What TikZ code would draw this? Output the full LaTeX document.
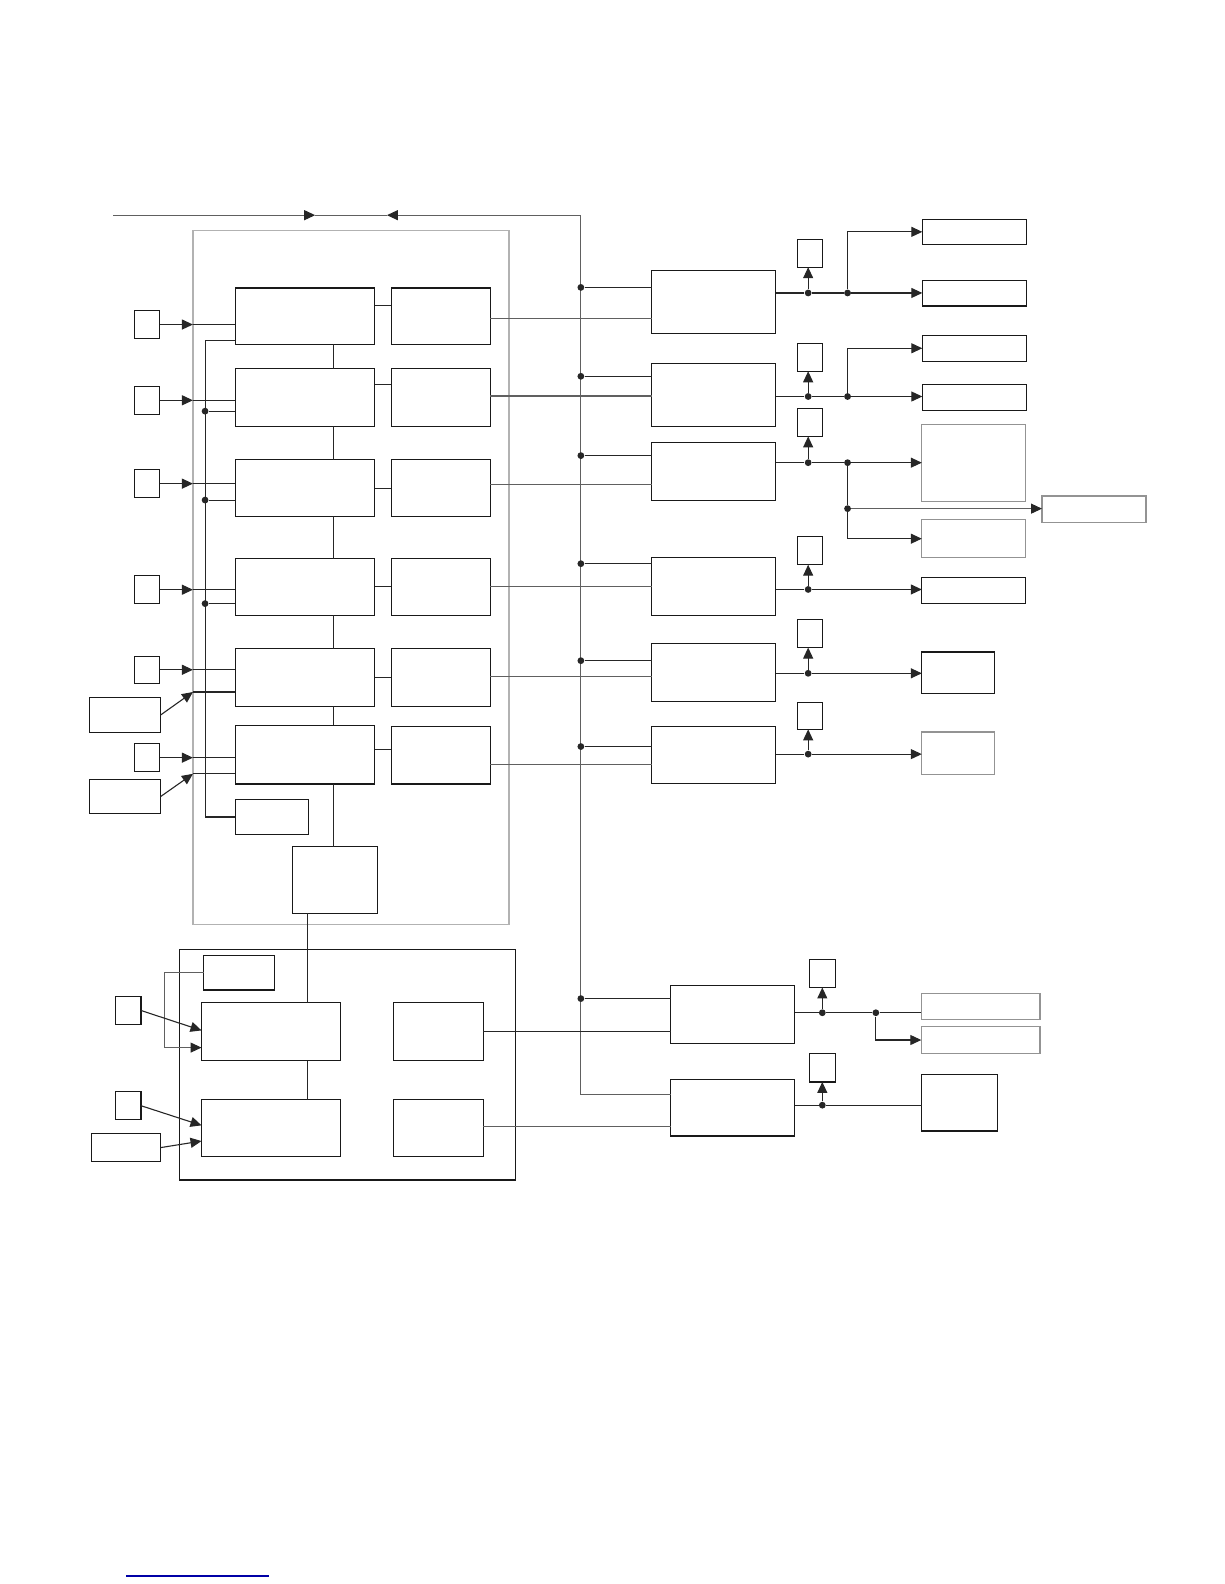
\documentclass[tikz,border=0pt]{standalone}
\usepackage{tikz}
\usetikzlibrary{positioning,arrows.meta,fit,calc}

\tikzset{
  blk/.style={draw=black!90, line width=0.6pt, inner sep=0pt, outer sep=0pt},
  gblk/.style={blk, draw=gray!85},
  wire/.style={draw=black!85, line width=0.55pt},
  gwire/.style={draw=gray!75!black, line width=0.55pt},
  arr/.style={-{Triangle[length=5.5pt,width=5pt,color=black!85,fill=black!85]}},
  jdot/.style={circle, fill=black!85, inner sep=0pt, minimum size=3.4pt},
}

\begin{document}
\begin{tikzpicture}[x=0.505pt, y=-0.505pt]
\useasboundingbox (0,0) rectangle (1212,1568);

% frames
\node[blk, draw=gray!60, line width=0.8pt, fit={(191,228) (504,915)}] (fA) {};
\node[blk, fit={(178,940) (510,1168)}] (fB) {};

% left column
\node[blk, fit={(233,285) (371,341)}] (a1) {};
\node[blk, fit={(233,365) (371,422)}] (a2) {};
\node[blk, fit={(233,455) (371,511)}] (a3) {};
\node[blk, fit={(233,553) (371,609)}] (a4) {};
\node[blk, fit={(233,642) (371,699)}] (a5) {};
\node[blk, fit={(233,718) (371,776)}] (a6) {};
\node[blk, fit={(387.5,285) (485.5,341)}] (b1) {};
\node[blk, fit={(387.5,365) (485.5,422)}] (b2) {};
\node[blk, fit={(387.5,455) (485.5,511)}] (b3) {};
\node[blk, fit={(387.5,553) (485.5,609)}] (b4) {};
\node[blk, fit={(387.5,642) (485.5,699)}] (b5) {};
\node[blk, fit={(387.5,719) (485.5,776)}] (b6) {};
\node[blk, fit={(233,791.5) (305,826)}] (aux) {};
\node[blk, fit={(289.5,838) (373.5,904)}] (dd) {};

% lower frame
\node[blk, fit={(201.5,946) (271.5,980)}] (g) {};
\node[blk, fit={(199.5,992.5) (337,1050)}] (e1) {};
\node[blk, fit={(199.5,1088.5) (337,1145)}] (e2) {};
\node[blk, fit={(389.5,992.5) (478.5,1050)}] (f1) {};
\node[blk, fit={(389.5,1088.5) (478.5,1145)}] (f2) {};

% inputs
\node[blk, fit={(133,307.5) (158,335)}] (in1) {};
\node[blk, fit={(133,382.5) (158,410)}] (in2) {};
\node[blk, fit={(133,465) (158,492.5)}] (in3) {};
\node[blk, fit={(133,570) (158,597.5)}] (in4) {};
\node[blk, fit={(133,649.5) (158,676.5)}] (in5) {};
\node[blk, fit={(133,736) (158,764)}] (in6) {};
\node[blk, fit={(88.5,690.5) (159,725)}] (big5) {};
\node[blk, fit={(88.5,771.5) (159,805.5)}] (big6) {};
\node[blk, fit={(114,986.5) (139.5,1014)}] (inb1) {};
\node[blk, fit={(114,1080.5) (139.5,1108.5)}] (inb2) {};
\node[blk, fit={(90.5,1122) (159,1150)}] (lb3) {};

% drivers
\node[blk, fit={(645,268) (768,330)}] (c1) {};
\node[blk, fit={(645,360) (768,422)}] (c2) {};
\node[blk, fit={(645,438) (768,495.5)}] (c3) {};
\node[blk, fit={(645,552) (768,609)}] (c4) {};
\node[blk, fit={(645,637) (768,694.5)}] (c5) {};
\node[blk, fit={(645,719) (768,775.5)}] (c6) {};
\node[blk, fit={(664,975.5) (786.5,1033)}] (c7) {};
\node[blk, fit={(664,1068.5) (786.5,1124.5)}] (c8) {};

% sensors
\node[blk, fit={(789.5,237) (814.5,264.5)}] (sn1) {};
\node[blk, fit={(789.5,340) (814.5,367.5)}] (sn2) {};
\node[blk, fit={(789.5,404.5) (814.5,432)}] (sn3) {};
\node[blk, fit={(789.5,531) (814.5,559)}] (sn4) {};
\node[blk, fit={(789.5,613.5) (814.5,641)}] (sn5) {};
\node[blk, fit={(789.5,695) (814.5,722)}] (sn6) {};
\node[blk, fit={(801.5,950) (827,977.5)}] (sn7) {};
\node[blk, fit={(801.5,1043) (827,1071)}] (sn8) {};

% loads
\node[blk, fit={(913,217) (1016,242)}] (r1) {};
\node[blk, fit={(913,277.5) (1016,303)}] (r2) {};
\node[blk, fit={(913,332) (1016,357.5)}] (r3) {};
\node[blk, fit={(913,380.5) (1016,406)}] (r4) {};
\node[gblk, fit={(912.5,420.5) (1015.5,496.5)}] (r5) {};
\node[gblk, fit={(912.5,514.5) (1015.5,552)}] (r6) {};
\node[gblk, fit={(1031.5,491) (1134.5,517)}] (r7) {};
\node[blk, fit={(912.5,571.5) (1015.5,597.5)}] (r8) {};
\node[blk, fit={(912.5,645.5) (984.5,686.5)}] (r9) {};
\node[gblk, fit={(912.5,724.5) (984.5,766.5)}] (r10) {};
\node[gblk, fit={(912,983.5) (1029.5,1009.5)}] (r11) {};
\node[gblk, fit={(912,1016.5) (1029.5,1042.5)}] (r12) {};
\node[blk, fit={(912.5,1064) (987.5,1119.5)}] (r13) {};

% feed line and bus
\coordinate (feedL) at (112,213);
\coordinate (feedR) at (575,213);
\coordinate (tipR) at (312,213);
\coordinate (tipL) at (383,213);
\coordinate (busE) at (575,1083.5);
\draw[gwire, arr] (feedL) -- (tipR);
\draw[gwire] (tipR) -- (tipL);
\draw[gwire, arr] (feedR) -- (tipL);
\draw[gwire] (feedR) -- (busE) -- (busE -| c8.west);

% inputs into left column
\foreach \i in {1,...,6} {
  \draw[wire, arr] (in\i.east) -- (in\i.east -| fA.west);
  \draw[wire] (in\i.east -| fA.west) -- (in\i.east -| a\i.west);
}
\coordinate (e5) at (191,685);
\coordinate (e6) at (191,766);
\draw[wire, arr] (big5.east) -- (e5);
\draw[wire] (e5) -- (e5 -| a5.west);
\draw[wire, arr] (big6.east) -- (e6);
\draw[wire] (e6) -- (e6 -| a6.west);

% return line
\coordinate (fb) at (203,337);
\draw[wire] (fb -| a1.west) -- (fb) |- (aux.west);
\foreach \i/\y in {2/407,3/495,4/597.5} {
  \node[jdot] (fd\i) at (203,\y) {};
  \draw[wire] (fd\i) -- (fd\i -| a\i.west);
}

% spine
\coordinate (sp) at (330,0);
\foreach \i/\j in {1/2,2/3,3/4,4/5,5/6}
  \draw[wire] (a\i.south -| sp) -- (a\j.north -| sp);
\draw[wire] (a6.south -| sp) -- (dd.north -| sp);
\coordinate (sp2) at (304,0);
\draw[wire] (dd.south -| sp2) -- (e1.north -| sp2);
\draw[wire] (e1.south -| sp2) -- (e2.north -| sp2);

% a-b and b-c links
\foreach \i/\y in {1/302,2/380.5,3/483.5,4/581,5/670.5,6/742} {
  \coordinate (h) at (0,\y);
  \draw[wire] (a\i.east |- h) -- (b\i.west |- h);
}
\foreach \i/\y in {1/315,2/392,3/480,4/580.5,5/670,6/757} {
  \coordinate (h) at (0,\y);
  \draw[gwire] (b\i.east |- h) -- (c\i.west |- h);
}
\foreach \i/\y in {1/284.5,2/372.5,3/451,4/558,5/654,6/739,7/988.5} {
  \node[jdot] (bd\i) at (575,\y) {};
  \draw[wire] (bd\i) -- (bd\i -| c\i.west);
}
\coordinate (h) at (0,1021);
\draw[wire] (f1.east |- h) -- (c7.west |- h);
\coordinate (h) at (0,1115);
\draw[gwire] (f2.east |- h) -- (c8.west |- h);

% driver outputs
\foreach \i/\y in {1/290,2/392.5,3/458,4/583.5,5/666.5,6/746.5} {
  \node[jdot] (sd\i) at (800,\y) {};
  \draw[wire] (c\i.east |- sd\i) -- (sd\i);
  \draw[wire, arr] (sd\i) -- (sd\i |- sn\i.south);
}
\node[jdot] (br1) at (839,290) {};
\draw[wire] (sd1) -- (br1);
\draw[wire, arr] (br1) -- (br1 -| r2.west);
\draw[wire, arr] (br1) |- (r1.west);
\node[jdot] (br2) at (839,392.5) {};
\draw[wire] (sd2) -- (br2);
\draw[wire, arr] (br2) -- (br2 -| r4.west);
\draw[wire, arr] (br2) |- (r3.west);
\node[jdot] (br3) at (839,458) {};
\node[jdot] (br3b) at (839,503.5) {};
\draw[wire] (sd3) -- (br3);
\draw[wire, arr] (br3) -- (br3 -| r5.west);
\draw[wire] (br3) -- (br3b);
\draw[gwire, arr] (br3b) -- (br3b -| r7.west);
\draw[wire, arr] (br3b) |- (r6.west);
\draw[wire, arr] (sd4) -- (sd4 -| r8.west);
\draw[wire, arr] (sd5) -- (sd5 -| r9.west);
\draw[wire, arr] (sd6) -- (sd6 -| r10.west);

\node[jdot] (sd7) at (814,1002.5) {};
\node[jdot] (br7) at (867,1002.5) {};
\draw[wire] (c7.east |- sd7) -- (sd7);
\draw[wire, arr] (sd7) -- (sd7 |- sn7.south);
\draw[wire] (sd7) -- (br7) -- (br7 -| r11.west);
\draw[wire, arr] (br7) |- (r12.west);
\node[jdot] (sd8) at (814,1094) {};
\draw[wire] (c8.east |- sd8) -- (sd8) -- (sd8 -| r13.west);
\draw[wire, arr] (sd8) -- (sd8 |- sn8.south);

% inputs of the lower frame
\coordinate (gl) at (163,1037);
\draw[gwire, arr] (g.west) -| (gl) -- (gl -| e1.west);
\coordinate (h) at (0,1020);
\draw[wire, arr] (inb1.east) -- (e1.west |- h);
\coordinate (h) at (0,1114);
\draw[wire, arr] (inb2.east) -- (e2.west |- h);
\coordinate (h) at (0,1129.5);
\draw[wire, arr] (lb3.east) -- (e2.west |- h);

\draw[blue!65!black, line width=0.8pt] (125,1560) -- (266,1560);
\end{tikzpicture}
\end{document}
